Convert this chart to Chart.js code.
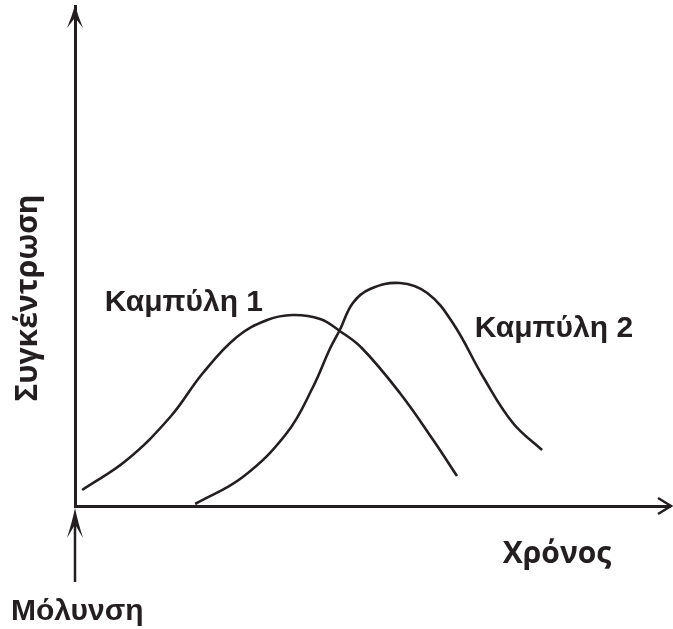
<!DOCTYPE html>
<html>
<head>
<meta charset="utf-8">
<script src="https://cdn.jsdelivr.net/npm/chart.js@4/dist/chart.umd.min.js"></script>
<style>
  html, body { margin: 0; padding: 0; background: #fff; }
  #wrap { width: 673px; height: 629px; position: relative; }
</style>
</head>
<body>
<div id="wrap"><canvas id="chart"></canvas></div>
<script>
// time (arbitrary units, 0 = contamination) and concentration for each curve
const curve1X = [1.2, 8.7, 16.0, 21.5, 27.2, 32.3, 36.6, 41.2, 44.5, 48.2, 54.6, 60.2, 64.2];
const curve1Y = [3.2, 9.2, 17.8, 26.6, 33.8, 37.2, 38.2, 37.4, 35.0, 31.6, 22.6, 13.2, 6.0];
const curve2X = [20.2, 28.2, 35.6, 40.0, 42.9, 44.5, 46.7, 49.6, 54.6, 59.2, 63.5, 68.6, 73.6, 78.5];
const curve2Y = [0.4, 5.8, 14.6, 23.8, 31.6, 35.2, 40.6, 43.4, 44.6, 42.6, 36.6, 25.8, 16.6, 11.2];

const seriesNames = ['Καμπύλη 1', 'Καμπύλη 2'];
const xTitle = 'Χρόνος';
const yTitle = 'Συγκέντρωση';
const startLabel = 'Μόλυνση';

const INK = '#231f20';

function toPoints(xs, ys) {
  return xs.map((x, i) => ({ x, y: ys[i] }));
}

function arrowHead(ctx, tipX, tipY, angle, len, half) {
  ctx.save();
  ctx.translate(tipX, tipY);
  ctx.rotate(angle);
  ctx.beginPath();
  ctx.moveTo(0, 0);
  ctx.quadraticCurveTo(-len * 0.45, half * 0.35, -len, half);
  ctx.lineTo(-len * 0.55, 0);
  ctx.lineTo(-len, -half);
  ctx.quadraticCurveTo(-len * 0.45, -half * 0.35, 0, 0);
  ctx.closePath();
  ctx.fill();
  ctx.restore();
}

const decorations = {
  id: 'decorations',
  afterDraw(chart) {
    const { ctx, chartArea, scales } = chart;
    const x = scales.x, y = scales.y;
    const x0 = x.getPixelForValue(0);
    const y0 = y.getPixelForValue(0);
    ctx.save();
    ctx.fillStyle = INK;
    ctx.strokeStyle = INK;

    // axis arrowheads
    arrowHead(ctx, x0, chartArea.top - 1, -Math.PI / 2, 23, 8);
    ctx.lineWidth = 2.5;
    ctx.beginPath();
    ctx.moveTo(chartArea.right - 12, y0 - 8);
    ctx.lineTo(chartArea.right + 1, y0);
    ctx.lineTo(chartArea.right - 12, y0 + 8);
    ctx.stroke();

    // contamination arrow below the time axis
    ctx.lineWidth = 2.5;
    ctx.beginPath();
    ctx.moveTo(x0, y0 + 76);
    ctx.lineTo(x0, y0 + 12);
    ctx.stroke();
    arrowHead(ctx, x0, y0 + 2, -Math.PI / 2, 30, 8);

    // texts
    ctx.textBaseline = 'alphabetic';
    ctx.font = 'bold 30px "Liberation Sans", Arial, sans-serif';
    ctx.textAlign = 'left';
    ctx.fillText(seriesNames[0], x.getPixelForValue(5.0), y.getPixelForValue(39));
    ctx.fillText(seriesNames[1], x.getPixelForValue(67.2), y.getPixelForValue(33.8));

    ctx.font = 'bold 30px "Liberation Sans", Arial, sans-serif';
    ctx.fillText(startLabel, 11, y0 + 114);

    ctx.font = 'bold 30px "Open Sans", sans-serif';
    ctx.textAlign = 'center';
    ctx.fillText(xTitle, 557, y0 + 57);

    ctx.save();
    ctx.translate(37, 298);
    ctx.rotate(-Math.PI / 2);
    ctx.fillText(yTitle, 0, 0);
    ctx.restore();

    ctx.restore();
  }
};

new Chart(document.getElementById('chart'), {
  type: 'scatter',
  data: {
    datasets: [
      { label: seriesNames[0], data: toPoints(curve1X, curve1Y) },
      { label: seriesNames[1], data: toPoints(curve2X, curve2Y) }
    ]
  },
  options: {
    responsive: true,
    maintainAspectRatio: false,
    animation: false,
    showLine: true,
    layout: { padding: { left: 75, right: 3, top: 6, bottom: 123 } },
    elements: {
      point: { radius: 0, hoverRadius: 0 },
      line: { borderColor: INK, borderWidth: 2.6, tension: 0.4, fill: false }
    },
    plugins: {
      legend: { display: false },
      tooltip: { enabled: false }
    },
    scales: {
      x: {
        type: 'linear', min: 0, max: 100,
        grid: { display: false, drawTicks: false },
        ticks: { display: false },
        border: { display: true, color: INK, width: 3 }
      },
      y: {
        type: 'linear', min: 0, max: 100,
        grid: { display: false, drawTicks: false },
        ticks: { display: false },
        border: { display: true, color: INK, width: 3 }
      }
    }
  },
  plugins: [decorations]
});
</script>
</body>
</html>
